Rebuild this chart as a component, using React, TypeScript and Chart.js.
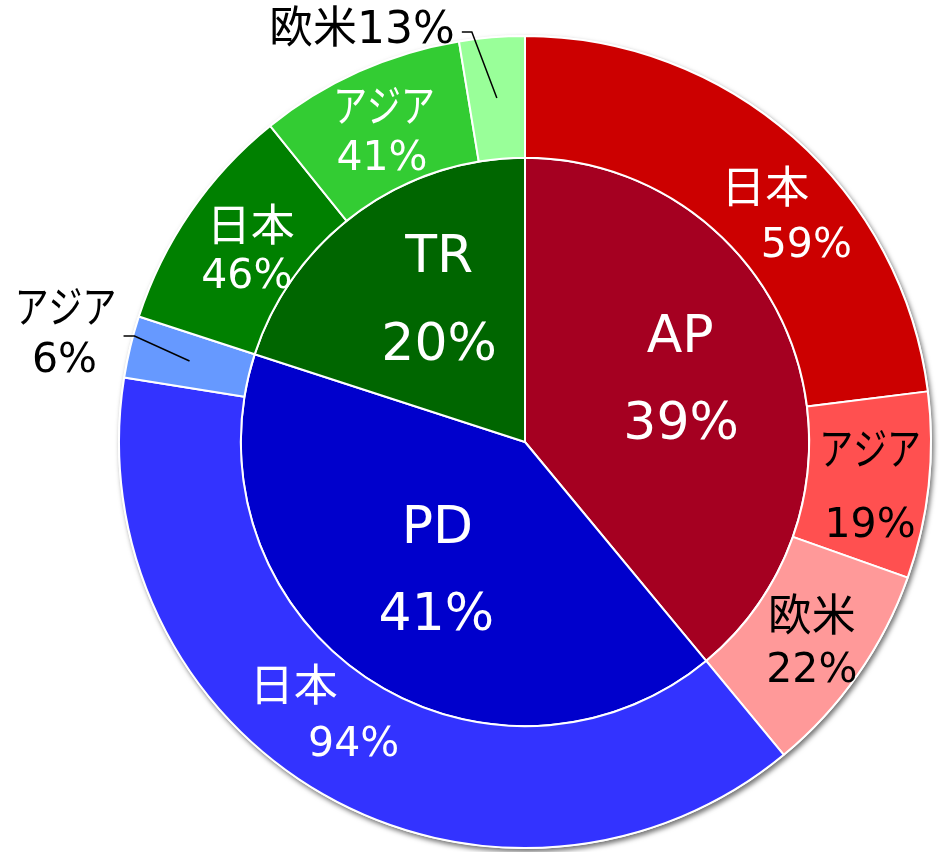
import React, { useEffect, useRef } from "react";
import { Chart, registerables } from "chart.js";

Chart.register(...registerables);

// ---- data ----
const groups = ["AP", "PD", "TR"];
const groupShares = [39, 41, 20];
const apRegions = ["日本", "アジア", "欧米"];
const apRegionShares = [59, 19, 22];
const pdRegions = ["日本", "アジア"];
const pdRegionShares = [94, 6];
const trRegions = ["日本", "アジア", "欧米"];
const trRegionShares = [46, 41, 13];

// ---- styles ----
const groupColors = ["#A50021", "#0000CC", "#006600"];
const apColors = ["#CC0000", "#FF5050", "#FF9999"];
const pdColors = ["#3333FF", "#6699FF"];
const trColors = ["#008000", "#33CC33", "#99FF99"];

const FONT = "'DejaVu Sans', 'Noto Sans CJK JP', sans-serif";

const regionNames = [apRegions, pdRegions, trRegions];
const regionShares = [apRegionShares, pdRegionShares, trRegionShares];
const outerLabels: string[] = [];
const outerShares: number[] = [];
const outerValues: number[] = [];
regionNames.forEach((names, g) => {
  names.forEach((n, i) => {
    outerLabels.push(n);
    outerShares.push(regionShares[g][i]);
    outerValues.push((groupShares[g] * regionShares[g][i]) / 100);
  });
});
const outerColors = [...apColors, ...pdColors, ...trColors];

// label placement (offsets relative to arc anchor)
const outerLabelStyles: any[] = [
  { color: "#fff", lines: [[12, 5], [53, 59]] },
  { color: "#000", lines: [[2, -29], [2, 43]] },
  { color: "#000", lines: [[4, -23], [4, 28]] },
  { color: "#fff", lines: [[-60, -55], [0, 0]] },
  { color: "#000", lines: [[-124, -53], [-125, -4]], leader: [[-55, -25], [-66, -25]] },
  { color: "#fff", lines: [[10, -20], [6, 27]] },
  { color: "#fff", lines: [[0, -20], [-2, 28]] },
  { color: "#000", single: true, lines: [[-135, -70]], leader: [[-25, -66], [-35, -66]] },
];
const innerLabelStyles: any[] = [
  { lines: [[0, -53], [1, 34]] },
  { lines: [[5, -54], [4, 33]] },
  { lines: [[11, -55], [11, 33]] },
];

const shadowPlugin = {
  id: "shadow",
  beforeDatasetsDraw(chart: any) {
    const arc = chart.getDatasetMeta(0).data[0];
    if (!arc) return;
    const { x, y, outerRadius } = arc.getProps(["x", "y", "outerRadius"], true);
    const ctx = chart.ctx;
    ctx.save();
    ctx.shadowColor = "rgba(0,0,0,0.55)";
    ctx.shadowBlur = 5;
    ctx.shadowOffsetX = 2;
    ctx.shadowOffsetY = 3;
    ctx.fillStyle = "#ffffff";
    ctx.beginPath();
    ctx.arc(x, y, outerRadius + 1, 0, Math.PI * 2);
    ctx.fill();
    ctx.restore();
  },
};

const isKatakana = (s: string) => /[\u30A0-\u30FF]/.test(s);
const isKanji = (s: string) => /[\u4E00-\u9FFF]/.test(s);

function drawText(ctx: any, text: string, x: number, y: number, size: number, color: string) {
  let fontSize = size;
  let sx = 1;
  if (isKatakana(text)) {
    fontSize = size + 3;
    sx = 0.77;
  } else if (isKanji(text)) fontSize = size + 3;
  ctx.save();
  ctx.font = `${fontSize}px ${FONT}`;
  ctx.fillStyle = color;
  ctx.textAlign = "center";
  ctx.textBaseline = "alphabetic";
  ctx.translate(x, y + size * 0.36);
  ctx.scale(sx, 1);
  ctx.fillText(text, 0, 0);
  ctx.restore();
}

const labelPlugin = {
  id: "labels",
  afterDatasetsDraw(chart: any) {
    const ctx = chart.ctx;
    ctx.save();
    // outer ring
    const outerArcs = chart.getDatasetMeta(0).data;
    outerArcs.forEach((arc: any, i: number) => {
      const p = arc.getProps(["x", "y", "startAngle", "endAngle", "innerRadius", "outerRadius"], true);
      const mid = (p.startAngle + p.endAngle) / 2;
      const r = (p.innerRadius + p.outerRadius) / 2;
      const ax = p.x + r * Math.cos(mid);
      const ay = p.y + r * Math.sin(mid);
      const st = outerLabelStyles[i];
      if (st.leader) {
        ctx.strokeStyle = "#000";
        ctx.lineWidth = 1.5;
        ctx.beginPath();
        ctx.moveTo(ax, ay);
        st.leader.forEach((pt: number[]) => ctx.lineTo(ax + pt[0], ay + pt[1]));
        ctx.stroke();
      }
      const pct = `${outerShares[i]}%`;
      if (st.single) {
        drawText(ctx, outerLabels[i] + pct, ax + st.lines[0][0], ay + st.lines[0][1], 41, st.color);
      } else {
        drawText(ctx, outerLabels[i], ax + st.lines[0][0], ay + st.lines[0][1], 41, st.color);
        drawText(ctx, pct, ax + st.lines[1][0], ay + st.lines[1][1], 41, st.color);
      }
    });
    // inner pie
    const innerArcs = chart.getDatasetMeta(1).data;
    innerArcs.forEach((arc: any, i: number) => {
      const p = arc.getProps(["x", "y", "startAngle", "endAngle", "outerRadius"], true);
      const mid = (p.startAngle + p.endAngle) / 2;
      const r = p.outerRadius * 0.58;
      const ax = p.x + r * Math.cos(mid);
      const ay = p.y + r * Math.sin(mid);
      const st = innerLabelStyles[i];
      drawText(ctx, groups[i], ax + st.lines[0][0], ay + st.lines[0][1], 52, "#fff");
      drawText(ctx, `${groupShares[i]}%`, ax + st.lines[1][0], ay + st.lines[1][1], 52, "#fff");
    });
    ctx.restore();
  },
};

export default function App() {
  const ref = useRef<HTMLCanvasElement>(null);
  useEffect(() => {
    if (!ref.current) return;
    const chart = new Chart(ref.current, {
      type: "doughnut",
      data: {
        labels: outerLabels,
        datasets: [
          {
            data: outerValues,
            backgroundColor: outerColors,
            borderColor: "#ffffff",
            borderWidth: 2,
            hoverBorderWidth: 2,
            weight: 0.3,
          } as any,
          {
            data: groupShares,
            backgroundColor: groupColors,
            borderColor: "#ffffff",
            borderWidth: 2,
            hoverBorderWidth: 2,
            weight: 0.7,
          } as any,
        ],
      },
      options: {
        responsive: false,
        animation: false,
        events: [],
        cutout: 0,
        layout: { padding: { left: 118, top: 35, right: 8, bottom: 3 } },
        plugins: {
          legend: { display: false },
          tooltip: { enabled: false },
        },
      },
      plugins: [shadowPlugin, labelPlugin],
    });
    return () => chart.destroy();
  }, []);
  return (
    <div style={{ position: "absolute", left: 0, top: 0, width: 940, height: 852, background: "#fff" }}>
      <canvas ref={ref} width={940} height={852} style={{ display: "block", width: 940, height: 852 }} />
    </div>
  );
}
